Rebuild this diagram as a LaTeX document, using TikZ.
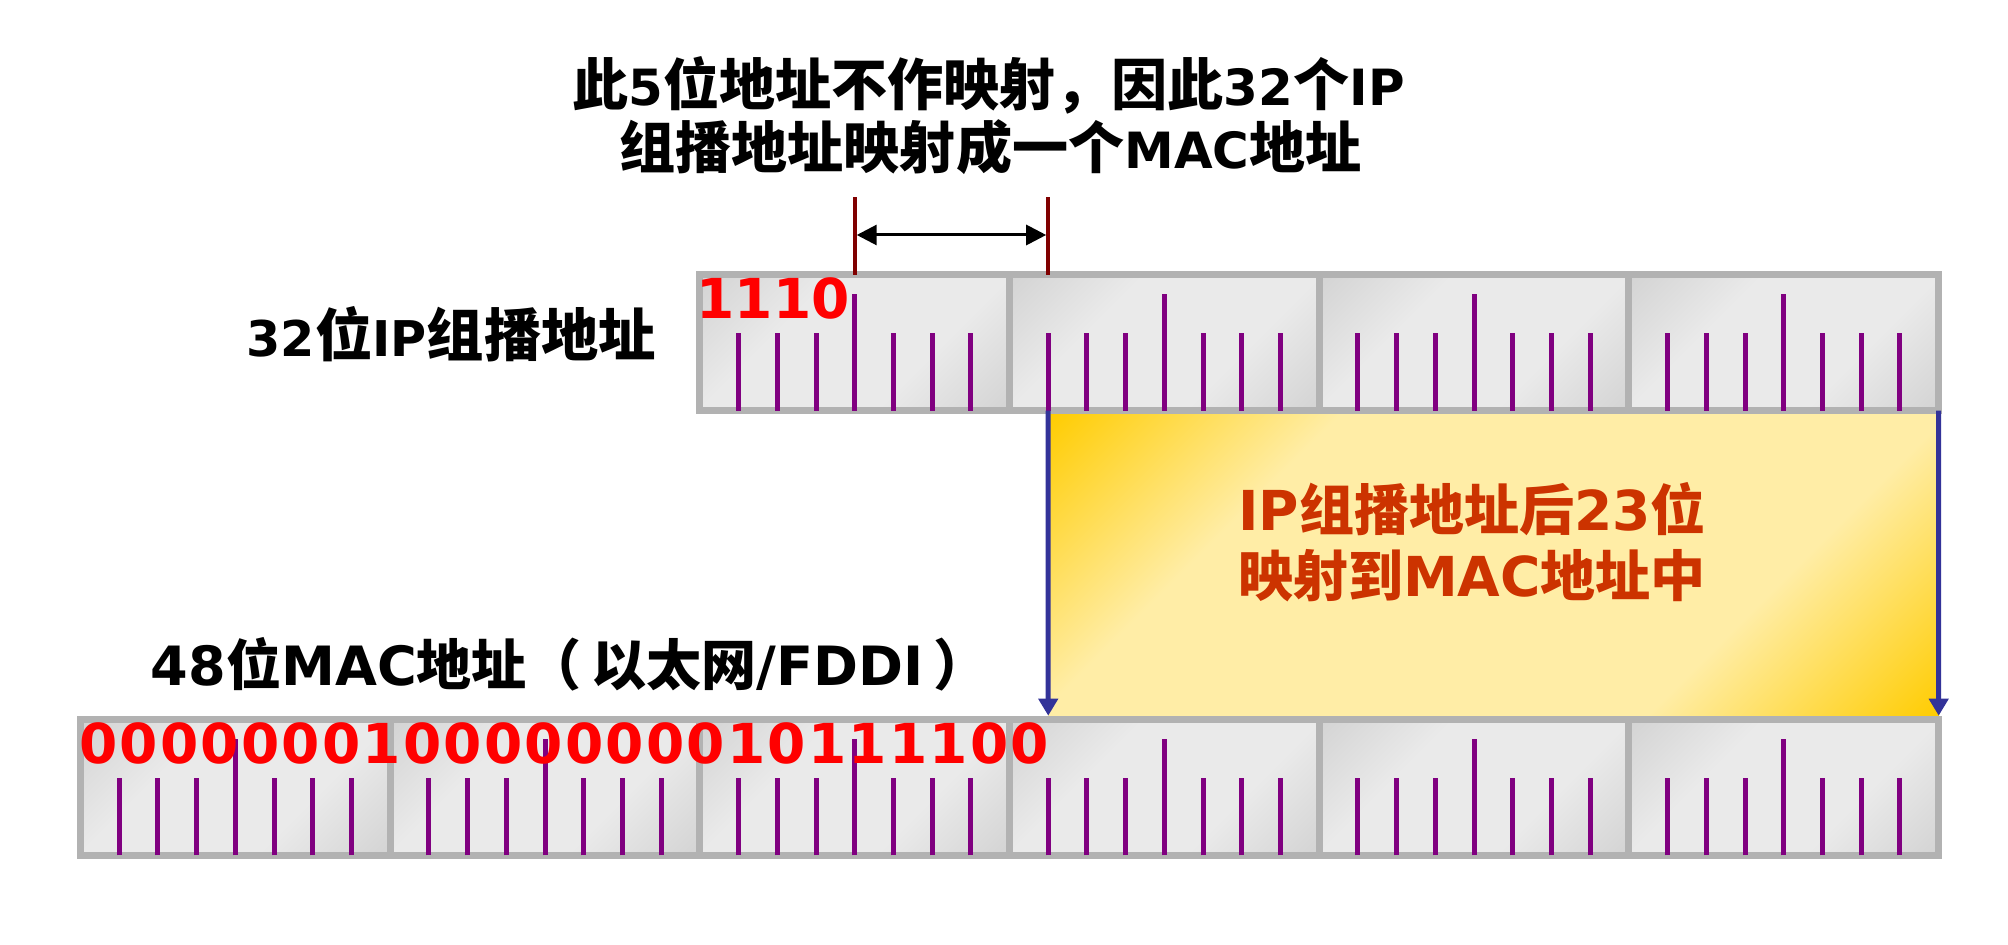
\documentclass[tikz,border=0pt]{standalone}
\usepackage{fontspec}
\usepackage{graphicx}
\setmainfont{DejaVu Sans}
\newfontfamily\cjk{Noto Sans CJK SC}
\newfontfamily\bitfont{DejaVu Sans}[LetterSpace=4]
\usetikzlibrary{arrows.meta}

\definecolor{boxgrey}{HTML}{B2B2B2}
\definecolor{bytedark}{HTML}{D3D3D3}
\definecolor{bytelight}{HTML}{EAEAEA}
\definecolor{tickpurple}{HTML}{800080}
\definecolor{bitred}{HTML}{FF0000}
\definecolor{dimred}{HTML}{800000}
\definecolor{mapblue}{HTML}{333399}
\definecolor{gold}{HTML}{FFCC00}
\definecolor{paleyellow}{HTML}{FFEDA6}
\definecolor{mapfont}{HTML}{CC3300}

\pgfdeclarehorizontalshading{bytegrad}{100bp}{color(0bp)=(bytedark); color(32.3bp)=(bytedark); color(43bp)=(bytelight); color(57bp)=(bytelight); color(67.7bp)=(bytedark); color(100bp)=(bytedark)}
\pgfdeclarehorizontalshading{yellowgrad}{100bp}{color(0bp)=(gold); color(32.3bp)=(gold); color(41bp)=(paleyellow); color(59bp)=(paleyellow); color(67.7bp)=(gold); color(100bp)=(gold)}

\newcommand\zs{15.65pt}
\newcommand\zh[1]{{\fontsize{\zs}{\zs}\cjk #1}}

\tikzset{
  bytebox/.style={draw=boxgrey, line width=0.07cm, minimum width=3.0967cm, minimum height=1.36cm,
    inner sep=0pt, outer sep=0pt, anchor=north west,
    path picture={\shade[shading=bytegrad, shading angle=-45]
      ([xshift=-2.23cm,yshift=-2.23cm]path picture bounding box.center) rectangle
      ([xshift=2.23cm,yshift=2.23cm]path picture bounding box.center);}},
  yellowbox/.style={minimum width=8.903cm, minimum height=3.087cm, inner sep=0pt, outer sep=0pt,
    anchor=north west,
    path picture={\shade[shading=yellowgrad, shading angle=-45]
      ([xshift=-5.995cm,yshift=-5.995cm]path picture bounding box.center) rectangle
      ([xshift=5.995cm,yshift=5.995cm]path picture bounding box.center);}},
  bittick/.style={draw=tickpurple, line width=0.05cm},
  dimline/.style={draw=dimred, line width=0.04cm},
  dimarrow/.style={draw=black, line width=0.03cm, {Triangle[length=0.2cm,width=0.2cm]}-{Triangle[length=0.2cm,width=0.2cm]}, shorten <=0.02cm, shorten >=0.02cm},
  maparrow/.style={draw=mapblue, line width=0.05cm, -{Triangle[length=0.17cm,width=0.19cm]}, shorten >=0.035cm},
  txt/.style={inner sep=0pt, outer sep=0pt, font=\bfseries},
}

\begin{document}
\begin{tikzpicture}[x=0.01cm, y=-0.01cm]
\fill[white] (0,0) rectangle (2008,944);
\path[use as bounding box] (0,0) rectangle (2008,944);

% yellow mapping box
\node[yellowbox] (ybox) at (1048.2, 410.5) {};

% 32-bit IP multicast address (4 bytes)
\foreach \i in {1,...,4} {
  \node[bytebox] (p\i) at ({699.8+(\i-1)*309.67}, 274.5) {};
}
% 48-bit MAC address (6 bytes)
\foreach \i in {1,...,6} {
  \node[bytebox] (m\i) at ({80.5+(\i-1)*309.67}, 719.2) {};
}

% ticks
\foreach \i in {1,...,4} {
  \foreach \k/\len in {1/77.5,2/77.5,3/77.5,4/116.5,5/77.5,6/77.5,7/77.5} {
    \draw[bittick] ([xshift=\k*0.3871cm]p\i.south west) -- ++(0,-\len);
  }
}
\foreach \i in {1,...,6} {
  \foreach \k/\len in {1/77.5,2/77.5,3/77.5,4/116.5,5/77.5,6/77.5,7/77.5} {
    \draw[bittick] ([xshift=\k*0.3871cm]m\i.south west) -- ++(0,-\len);
  }
}

% dimension marks for the 5 unmapped bits
\coordinate (dl) at ([xshift=4*0.3871cm]p1.north west);
\coordinate (dr) at ([xshift=0.3871cm]p2.north west);
\coordinate (dlt) at ([yshift=0.778cm]dl);
\coordinate (drt) at ([yshift=0.778cm]dr);
\coordinate (al) at ([yshift=0.395cm]dl);
\coordinate (ar) at ([yshift=0.395cm]dr);
\draw[dimline] (dl) -- (dlt);
\draw[dimline] (dr) -- (drt);
\draw[dimarrow] (al) -- (ar);

% mapping arrows
\coordinate (bs1) at ([xshift=0.3871cm]p2.south west);
\coordinate (be1) at ([xshift=0.3871cm]m4.north west);
\draw[maparrow] (bs1) -- (be1);
\draw[maparrow] (p4.south east) -- (m6.north east);

% texts
\node[txt, anchor=base] (title1) at (988.5, 105)
  {\fontsize{14.2pt}{14.2pt}\selectfont\def\zs{15.95pt}\zh{此}5\zh{位地址不作映射，因此}32\zh{个}IP};
\node[txt, anchor=base] (title2) at (990.5, 168.3)
  {\fontsize{14.2pt}{14.2pt}\selectfont\def\zs{15.95pt}\zh{组播地址映射成一个}MAC\zh{地址}};

\node[txt, anchor=base west] (iplabel) at (246.6, 356.7)
  {\fontsize{14pt}{14pt}\selectfont\def\zs{16.3pt}32\zh{位}IP\zh{组播地址}};
\node[txt, anchor=base west] (maclabel) at (150.8, 685)
  {\fontsize{15.4pt}{15.4pt}\selectfont 48\zh{位}MAC\zh{地址（}\hspace{0.1cm}\zh{以太网}/FDDI\hspace{0.1cm}\zh{）}};

\node[txt, anchor=base west, text=bitred] (ipbits) at (696.4, 318)
  {\fontsize{15.65pt}{15.65pt}\selectfont 1110};
\node[txt, anchor=base west, text=bitred] (macbits) at (79, 763.3)
  {\fontsize{15.65pt}{15.65pt}\bitfont 000000010000000010111100};

\node[txt, anchor=base, text=mapfont] (ytext1) at (1472, 530)
  {\fontsize{15.65pt}{15.65pt}\selectfont IP\zh{组播地址后}23\zh{位}};
\node[txt, anchor=base, text=mapfont] (ytext2) at (1472, 596.7)
  {\fontsize{15.65pt}{15.65pt}\selectfont\zh{映射到}MAC\zh{地址中}};
\end{tikzpicture}
\end{document}
